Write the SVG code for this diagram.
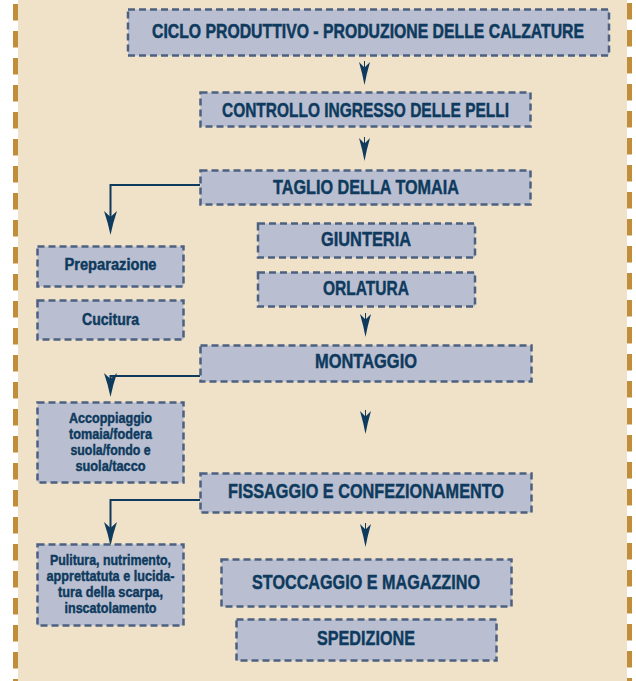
<svg xmlns="http://www.w3.org/2000/svg" xmlns:xlink="http://www.w3.org/1999/xlink" width="636" height="681" viewBox="0 0 636 681">
<style>
.box{fill:#b9bfd0;stroke:#4c6180;stroke-width:2.5;stroke-dasharray:7 4}
.t{font-family:"Liberation Sans",Arial,sans-serif;font-weight:bold;fill:#0e3a5e;stroke:#0e3a5e;stroke-width:0.45;text-anchor:middle}
.big{font-size:20.5px}
.sm{font-size:16px}
.xs{font-size:15px}
.ln{fill:none;stroke:#0e3a5e;stroke-width:2}
.ah{fill:#0e3a5e}
.brd{stroke:#c08e3a;stroke-width:5;stroke-dasharray:16.5 10.5}
</style>
<defs>
<path id="ah" d="M0,0 Q-2,-11 -5.5,-23 L0,-17.5 L5.5,-23 Q2,-11 0,0 Z"/>
<path id="ah2" d="M0,0 Q-2.4,-12 -6.5,-24 L0,-18 L6.5,-24 Q2.4,-12 0,0 Z"/>
</defs>
<rect x="0" y="0" width="636" height="681" fill="#ffffff"/>
<rect x="18" y="0" width="609" height="681" fill="#f0e1c9"/>
<line class="brd" x1="15.5" y1="4" x2="15.5" y2="681"/>
<line class="brd" x1="629.5" y1="3" x2="629.5" y2="681"/>

<g id="connectors">
<g class="ah">
<use xlink:href="#ah" href="#ah" x="364.5" y="85"/>
<line x1="364.5" y1="61" x2="364.5" y2="68" stroke="#0e3a5e" stroke-width="1"/>
<use xlink:href="#ah" href="#ah" x="364.5" y="161"/>
<line x1="364.5" y1="137" x2="364.5" y2="144" stroke="#0e3a5e" stroke-width="1"/>
<use xlink:href="#ah" href="#ah" x="365.5" y="337"/>
<line x1="365.5" y1="313" x2="365.5" y2="320" stroke="#0e3a5e" stroke-width="1"/>
<use xlink:href="#ah" href="#ah" x="365.5" y="434"/>
<line x1="365.5" y1="410" x2="365.5" y2="417" stroke="#0e3a5e" stroke-width="1"/>
<use xlink:href="#ah" href="#ah" x="365.5" y="547"/>
<line x1="365.5" y1="523" x2="365.5" y2="530" stroke="#0e3a5e" stroke-width="1"/>
</g>
<path class="ln" d="M200,185 H110.5 V220"/>
<use class="ah" xlink:href="#ah2" href="#ah2" x="110.5" y="235"/>
<path class="ln" d="M200,376 H110.5 V382"/>
<use class="ah" xlink:href="#ah2" href="#ah2" x="110.5" y="397"/>
<path class="ln" d="M200,500 H110.5 V530"/>
<use class="ah" xlink:href="#ah2" href="#ah2" x="110.5" y="546"/>
</g>

<g id="n-ciclo"><rect class="box" x="128" y="9.5" width="481" height="46"/><text class="t" font-size="17.5" transform="translate(368,37.5) scale(1,1.17)" x="0" y="0" textLength="432" lengthAdjust="spacingAndGlyphs">CICLO PRODUTTIVO - PRODUZIONE DELLE CALZATURE</text></g>
<g id="n-controllo"><rect class="box" x="200.5" y="92.5" width="330" height="34"/><text class="t big" x="365.5" y="116.5" textLength="287" lengthAdjust="spacingAndGlyphs">CONTROLLO INGRESSO DELLE PELLI</text></g>
<g id="n-taglio"><rect class="box" x="200.5" y="170.5" width="330" height="34"/><text class="t big" x="366" y="193.5" textLength="186" lengthAdjust="spacingAndGlyphs">TAGLIO DELLA TOMAIA</text></g>
<g id="n-giunteria"><rect class="box" x="258" y="223.5" width="217" height="34"/><text class="t big" x="366" y="246" textLength="90" lengthAdjust="spacingAndGlyphs">GIUNTERIA</text></g>
<g id="n-orlatura"><rect class="box" x="258" y="272.5" width="217" height="34"/><text class="t big" x="366" y="295" textLength="86" lengthAdjust="spacingAndGlyphs">ORLATURA</text></g>
<g id="n-montaggio"><rect class="box" x="200.5" y="345.5" width="331" height="36"/><text class="t big" x="366" y="367.5" textLength="102" lengthAdjust="spacingAndGlyphs">MONTAGGIO</text></g>
<g id="n-fissaggio"><rect class="box" x="200.5" y="473.5" width="331" height="39"/><text class="t big" x="366" y="497.5" textLength="276" lengthAdjust="spacingAndGlyphs">FISSAGGIO E CONFEZIONAMENTO</text></g>
<g id="n-stoccaggio"><rect class="box" x="221.5" y="559.5" width="290" height="47"/><text class="t big" x="366" y="588.5" textLength="228" lengthAdjust="spacingAndGlyphs">STOCCAGGIO E MAGAZZINO</text></g>
<g id="n-spedizione"><rect class="box" x="236.5" y="619.5" width="260" height="41"/><text class="t big" x="366" y="645" textLength="98" lengthAdjust="spacingAndGlyphs">SPEDIZIONE</text></g>

<g id="n-preparazione"><rect class="box" x="37.5" y="246.5" width="146" height="40"/><text class="t sm" x="110.5" y="269.5" textLength="92" lengthAdjust="spacingAndGlyphs">Preparazione</text></g>
<g id="n-cucitura"><rect class="box" x="37.5" y="300.5" width="146" height="39"/><text class="t sm" x="110.5" y="324.5" textLength="57" lengthAdjust="spacingAndGlyphs">Cucitura</text></g>
<g id="n-accoppiaggio"><rect class="box" x="37.5" y="402.5" width="146" height="80"/>
<text class="t xs" x="110.5" y="423" textLength="83" lengthAdjust="spacingAndGlyphs">Accoppiaggio</text>
<text class="t xs" x="110.5" y="439" textLength="83" lengthAdjust="spacingAndGlyphs">tomaia/fodera</text>
<text class="t xs" x="110.5" y="455" textLength="80" lengthAdjust="spacingAndGlyphs">suola/fondo e</text>
<text class="t xs" x="110.5" y="471" textLength="70" lengthAdjust="spacingAndGlyphs">suola/tacco</text></g>
<g id="n-pulitura"><rect class="box" x="37.5" y="544.5" width="146" height="81"/>
<text class="t xs" x="110.5" y="565" textLength="121" lengthAdjust="spacingAndGlyphs">Pulitura, nutrimento,</text>
<text class="t xs" x="110.5" y="581" textLength="128" lengthAdjust="spacingAndGlyphs">apprettatuta e lucida-</text>
<text class="t xs" x="110.5" y="597" textLength="105" lengthAdjust="spacingAndGlyphs">tura della scarpa,</text>
<text class="t xs" x="110.5" y="613" textLength="92" lengthAdjust="spacingAndGlyphs">inscatolamento</text></g>
</svg>
